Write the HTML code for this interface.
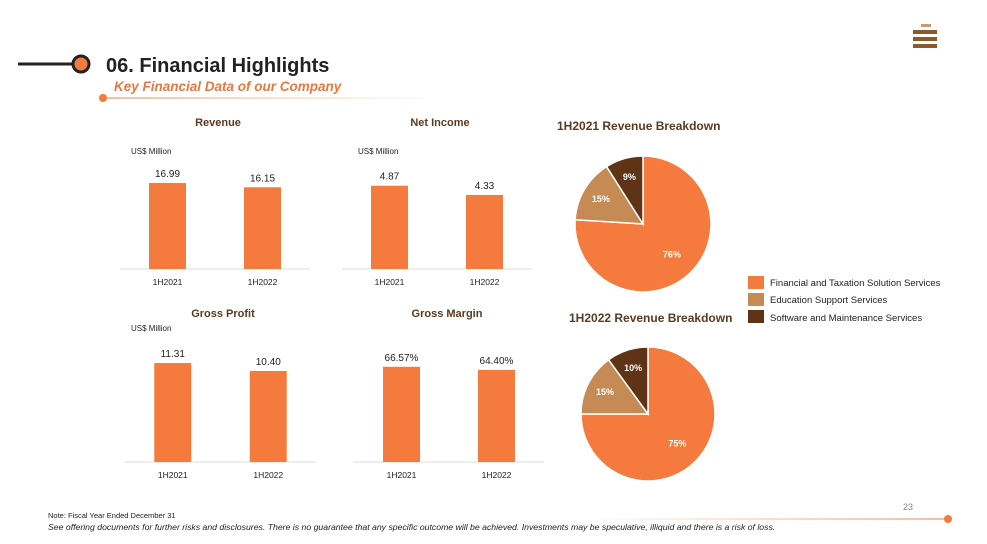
<!DOCTYPE html>
<html><head><meta charset="utf-8"><style>
body{margin:0;width:987px;height:544px;background:#fff;font-family:"Liberation Sans",Arial,sans-serif;position:relative;overflow:hidden}
.a{position:absolute}
</style></head><body>
<svg class="a" style="left:0;top:0" width="987" height="544">
<line x1="18" y1="64" x2="74" y2="64" stroke="#222" stroke-width="3"/>
<circle cx="81" cy="64" r="8" fill="#f47b3d" stroke="#222" stroke-width="3"/>
<text x="106" y="72" font-size="20" font-weight="bold" fill="#222">06. Financial Highlights</text>
<text x="114" y="91" font-size="13.5" font-weight="bold" font-style="italic" fill="#e8783f">Key Financial Data of our Company</text>
<defs><linearGradient id="g1" x1="0" x2="1" y1="0" y2="0"><stop offset="0" stop-color="#f47b3d"/><stop offset="1" stop-color="#f47b3d" stop-opacity="0.05"/></linearGradient>
<linearGradient id="g2" x1="0" x2="1" y1="0" y2="0"><stop offset="0" stop-color="#f47b3d" stop-opacity="0.05"/><stop offset="1" stop-color="#f47b3d"/></linearGradient></defs>
<circle cx="103" cy="98" r="4" fill="#f47b3d"/>
<rect x="103" y="97.5" width="320" height="1" fill="url(#g1)"/>
<g fill="#8a5a2b">
<rect x="913" y="30" width="24" height="4"/><rect x="913" y="37" width="24" height="4"/><rect x="913" y="44" width="24" height="4"/><rect x="921" y="24" width="10" height="3" fill="#c89a6a"/>
</g>
<g id="bars"></g>
<g id="pies"></g>
<text x="131" y="154" font-size="8" fill="#222">US$ Million</text>
<text x="358" y="154" font-size="8" fill="#222">US$ Million</text>
<text x="131" y="331" font-size="8" fill="#222">US$ Million</text>
<text x="557" y="130" font-size="12" font-weight="bold" fill="#5a3a22">1H2021 Revenue Breakdown</text>
<text x="569" y="322" font-size="12" font-weight="bold" fill="#5a3a22">1H2022 Revenue Breakdown</text>
<g font-size="9.5" fill="#222">
<rect x="748" y="276" width="16" height="13" fill="#f47b3d"/>
<text x="770" y="286">Financial and Taxation Solution Services</text>
<rect x="748" y="293" width="16" height="13" fill="#c68b55"/>
<text x="770" y="303">Education Support Services</text>
<rect x="748" y="310" width="16" height="13" fill="#5e3316"/>
<text x="770" y="321">Software and Maintenance Services</text>
</g>
<text x="913" y="510" font-size="9" fill="#888" text-anchor="end">23</text>
<rect x="600" y="518.5" width="345" height="1" fill="url(#g2)"/>
<circle cx="948" cy="519" r="4" fill="#f47b3d"/>
<text x="48" y="518" font-size="7.5" fill="#222">Note: Fiscal Year Ended December 31</text>
<text x="48" y="530" font-size="8.7" font-style="italic" fill="#222">See offering documents for further risks and disclosures. There is no guarantee that any specific outcome will be achieved. Investments may be speculative, illiquid and there is a risk of loss.</text>
</svg>
<script>
const categories=["1H2021","1H2022"];
const revenueValues=[16.99,16.15];
const netIncomeValues=[4.87,4.33];
const grossProfitValues=[11.31,10.40];
const grossMarginValues=[66.57,64.40];
const revenueLabels=["16.99","16.15"];
const netIncomeLabels=["4.87","4.33"];
const grossProfitLabels=["11.31","10.40"];
const grossMarginLabels=["66.57%","64.40%"];
const pie2021Values=[76,15,9];
const pie2022Values=[75,15,10];
const pieColors=["#f47b3d","#c68b55","#5e3316"];
const NS="http://www.w3.org/2000/svg";
function mk(t,a,p){const e=document.createElementNS(NS,t);for(const k in a)e.setAttribute(k,a[k]);p.appendChild(e);return e;}
const bg=document.getElementById('bars');
function barChart(name,title,vals,labels,x0,x1,base,scale,tx,ty){
  const g=mk('g',{},bg);
  
  
  const t=mk('text',{x:tx,y:ty,'font-size':11,'font-weight':'bold',fill:'#5a3a22','text-anchor':'middle'},g);t.textContent=title;
  
  
  const ax=mk('line',{x1:x0,x2:x1,y1:base,y2:base,stroke:'#ddd'},g);
  
  
  const w=(x1-x0)/categories.length;
  vals.forEach((v,i)=>{
    const cx=x0+w*(i+0.5);const h=v*scale;
    const r=mk('rect',{x:cx-18.5,y:base-h,width:37,height:h,fill:'#f47b3d'},g);
    
    
    const l=mk('text',{x:cx,y:base-h-6,'font-size':10,fill:'#222','text-anchor':'middle'},g);l.textContent=labels[i];
    
    
    const c=mk('text',{x:cx,y:base+16,'font-size':8.5,fill:'#222','text-anchor':'middle'},g);c.textContent=categories[i];
    
    
  });
}
barChart('revenue','Revenue',revenueValues,revenueLabels,120,310,269,5.06,218,126);
barChart('net-income','Net Income',netIncomeValues,netIncomeLabels,342,532,269,17.1,440,126);
barChart('gross-profit','Gross Profit',grossProfitValues,grossProfitLabels,125,316,462,8.75,223,317);
barChart('gross-margin','Gross Margin',grossMarginValues,grossMarginLabels,354,544,462,1.43,447,317);
const pg=document.getElementById('pies');
function pie(name,vals,cx,cy,r){
  const g=mk('g',{},pg);
  
  
  const tot=vals.reduce((a,b)=>a+b,0);let a0=0;
  vals.forEach((v,i)=>{
    const a1=a0+v/tot*2*Math.PI;
    const p=(a)=>[cx+r*Math.sin(a),cy-r*Math.cos(a)];
    const [xa,ya]=p(a0),[xb,yb]=p(a1);
    const s=mk('path',{d:`M${cx},${cy}L${xa},${ya}A${r},${r} 0 ${a1-a0>Math.PI?1:0} 1 ${xb},${yb}Z`,fill:pieColors[i],stroke:'#fff','stroke-width':1.5},g);
    
    
    const m=(a0+a1)/2,lr=r*(i==0?0.62:0.72);
    const t=mk('text',{x:cx+lr*Math.sin(m),y:cy-lr*Math.cos(m)+3,'font-size':9,'font-weight':'bold',fill:'#fff','text-anchor':'middle'},g);
    t.textContent=v+'%';
    
    
    a0=a1;
  });
}
pie('pie-2021',pie2021Values,643,224,68);
pie('pie-2022',pie2022Values,648,414,67);
</script>
</body></html>
